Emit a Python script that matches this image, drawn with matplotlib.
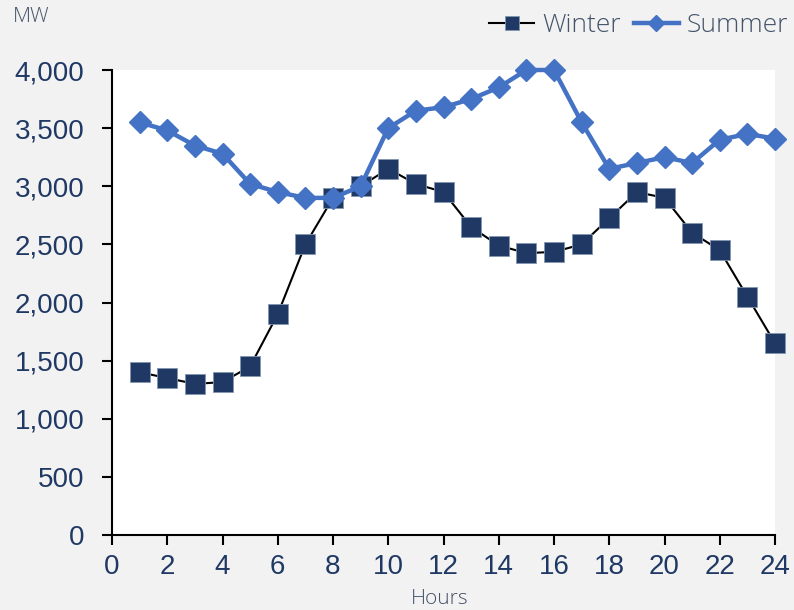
import matplotlib
matplotlib.use("Agg")
import matplotlib.pyplot as plt
from matplotlib.ticker import FuncFormatter, MultipleLocator
from matplotlib import font_manager

hours = list(range(1, 25))
winter = [1400, 1350, 1300, 1315, 1450, 1900, 2500, 2900, 3000, 3150, 3020, 2950,
          2650, 2490, 2425, 2435, 2500, 2725, 2950, 2900, 2600, 2450, 2050, 1650]
summer = [3550, 3480, 3350, 3280, 3020, 2950, 2900, 2900, 3000, 3500, 3650, 3680,
          3750, 3850, 4000, 4000, 3550, 3150, 3200, 3250, 3200, 3400, 3450, 3410]
x_ticks = list(range(0, 25, 2))

installed = {f.name for f in font_manager.fontManager.ttflist}


def first_font(*candidates):
    for name in candidates:
        if name in installed:
            return name
    return "DejaVu Sans"


num_font = first_font("Liberation Sans", "Arimo", "DejaVu Sans")
thin_font = first_font("Selawik", "Open Sans", "Noto Sans", "Lato")

bg = "#f2f2f2"
navy = "#1f3864"
blue = "#4472c4"
label_col = "#44546a"

fig = plt.figure(figsize=(7.94, 6.10), dpi=100, facecolor=bg)
ax = fig.add_axes([112 / 794, 1 - 535 / 610, (775 - 112) / 794, (535 - 70) / 610])
ax.set_facecolor("white")

ax.plot(hours, winter, color="black", lw=1.5, marker="s", markersize=14,
        markerfacecolor="#203864", markeredgecolor="#8496b0", markeredgewidth=0.6,
        label="Winter", clip_on=False, zorder=3)
ax.plot(hours, summer, color=blue, lw=3.2, marker="D", markersize=11,
        markerfacecolor=blue, markeredgecolor=blue, label="Summer",
        clip_on=False, zorder=4)

ax.set_xlim(0, 24)
ax.set_ylim(0, 4000)
ax.set_xticks(x_ticks)
ax.yaxis.set_major_locator(MultipleLocator(500))
ax.yaxis.set_major_formatter(FuncFormatter(lambda v, p: f"{int(v):,}"))

for s in ("top", "right"):
    ax.spines[s].set_visible(False)
for s in ("left", "bottom"):
    ax.spines[s].set_color("black")
    ax.spines[s].set_linewidth(1.5)

ax.tick_params(axis="both", direction="out", length=7, width=1.5, color="black",
               labelsize=20, labelcolor=navy)
ax.tick_params(axis="y", pad=13)
ax.tick_params(axis="x", pad=7)
for lab in ax.get_xticklabels() + ax.get_yticklabels():
    lab.set_fontfamily(num_font)

fig.text(13 / 794, 1 - 17 / 610, "MW", fontsize=15, color=label_col,
         fontfamily=thin_font, fontweight="light", va="center", ha="left")
fig.text(440 / 794, 1 - 599 / 610, "Hours", fontsize=15, color=label_col,
         fontfamily=thin_font, fontweight="light", va="center", ha="center")

leg = fig.legend(loc="center right", bbox_to_anchor=(788 / 794, 1 - 26 / 610), ncol=2,
                 frameon=False, handlelength=1.7, columnspacing=0.5, handletextpad=0.3,
                 borderaxespad=0, borderpad=0, markerscale=0.72,
                 prop={"family": thin_font, "size": 19, "weight": "light"})
for t in leg.get_texts():
    t.set_color(label_col)

fig.savefig("out.png", dpi=100, facecolor=bg)
